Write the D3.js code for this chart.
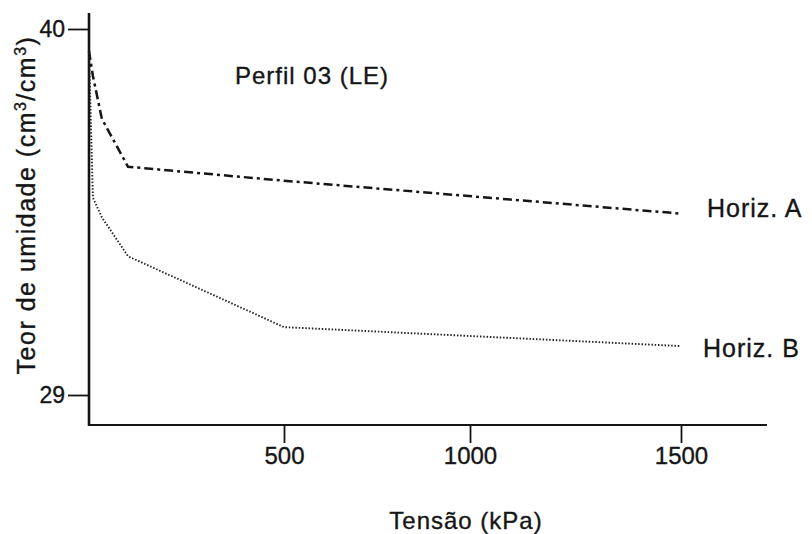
<!DOCTYPE html>
<html>
<head>
<meta charset="utf-8">
<script src="https://cdn.jsdelivr.net/npm/d3@7"></script>
<style>
  body { margin: 0; background: #fff; }
  svg text { font-family: "Liberation Sans", Arial, sans-serif; fill: #151515; stroke: #151515; stroke-width: 0.35px; }
</style>
</head>
<body>
<svg id="chart" width="812" height="534"></svg>
<script>
// tension (kPa) and water content (cm3/cm3)
var tensao = [0, 10, 33, 100, 500, 1500];
var horizA = [39.34, 38.59, 37.30, 35.86, 35.44, 34.45];
var horizB = [39.28, 34.93, 34.34, 33.17, 31.04, 30.47];
var xTicks = [500, 1000, 1500];
var yTicks = [29, 40];
var seriesNames = ["Horiz. A", "Horiz. B"];

var svg = d3.select("#chart");

// hand drawn axis -> ticks are not evenly spaced, so a polylinear scale
var x = d3.scaleLinear()
  .domain([0, 500, 1000, 1500])
  .range([89, 284, 470, 681]);

var y = d3.scaleLinear()
  .domain([29, 40])
  .range([395, 29]);

var axisLeft = 89, axisBottom = 425;

// axis lines
svg.append("line")
  .attr("x1", axisLeft).attr("x2", axisLeft)
  .attr("y1", 13).attr("y2", axisBottom + 1)
  .attr("stroke", "#151515").attr("stroke-width", 2.6);

svg.append("line")
  .attr("x1", axisLeft - 1).attr("x2", 767)
  .attr("y1", axisBottom).attr("y2", axisBottom)
  .attr("stroke", "#151515").attr("stroke-width", 2.2);

// y ticks
var gy = svg.append("g")
  .attr("transform", "translate(" + axisLeft + ",0)")
  .call(d3.axisLeft(y).tickValues(yTicks).tickSize(21).tickPadding(3).tickFormat(d3.format("d")));
gy.select(".domain").remove();
gy.selectAll("line").attr("stroke", "#151515").attr("stroke-width", 1.8);
gy.selectAll("text")
  .style("font-size", "23px")
  .attr("fill", "#151515");

// x ticks
var gx = svg.append("g")
  .attr("transform", "translate(0," + axisBottom + ")")
  .call(d3.axisBottom(x).tickValues(xTicks).tickSize(18).tickPadding(4).tickFormat(d3.format("d")));
gx.select(".domain").remove();
gx.selectAll("line").attr("stroke", "#151515").attr("stroke-width", 1.8);
gx.selectAll("text")
  .style("font-size", "24px")
  .attr("fill", "#151515");

// curves
var line = d3.line()
  .x(function(d) { return x(d[0]); })
  .y(function(d) { return y(d[1]); });

var dataA = tensao.map(function(t, i) { return [t, horizA[i]]; });
var dataB = tensao.map(function(t, i) { return [t, horizB[i]]; });

svg.append("path")
  .datum(dataA)
  .attr("d", line)
  .attr("fill", "none")
  .attr("stroke", "#151515")
  .attr("stroke-width", 2.5)
  .attr("stroke-dasharray", "9,4,3,4");

svg.append("path")
  .datum(dataB)
  .attr("d", line)
  .attr("fill", "none")
  .attr("stroke", "#222")
  .attr("stroke-width", 1.9)
  .attr("stroke-dasharray", "1.5,1.8");

// series labels
svg.append("text")
  .attr("x", 707).attr("y", 217)
  .style("font-size", "25px")
  .style("letter-spacing", "1px")
  .text(seriesNames[0]);

svg.append("text")
  .attr("x", 703).attr("y", 357)
  .style("font-size", "25px")
  .style("letter-spacing", "1px")
  .text(seriesNames[1]);

// title
svg.append("text")
  .attr("x", 235).attr("y", 84)
  .style("font-size", "24px")
  .style("letter-spacing", "1px")
  .text("Perfil 03 (LE)");

// x label
svg.append("text")
  .attr("x", 466).attr("y", 529)
  .style("text-anchor", "middle")
  .style("font-size", "24px")
  .style("letter-spacing", "1px")
  .text("Tensão (kPa)");

// y label
var ylab = svg.append("text")
  .attr("transform", "translate(35,205) rotate(-90)")
  .style("text-anchor", "middle")
  .style("font-size", "25px")
  .style("letter-spacing", "1.5px");
ylab.append("tspan").text("Teor de umidade (cm");
ylab.append("tspan").attr("dy", "-9").style("font-size", "16px").text("3");
ylab.append("tspan").attr("dy", "9").text("/cm");
ylab.append("tspan").attr("dy", "-9").style("font-size", "16px").text("3");
ylab.append("tspan").attr("dy", "9").text(")");
</script>
</body>
</html>
